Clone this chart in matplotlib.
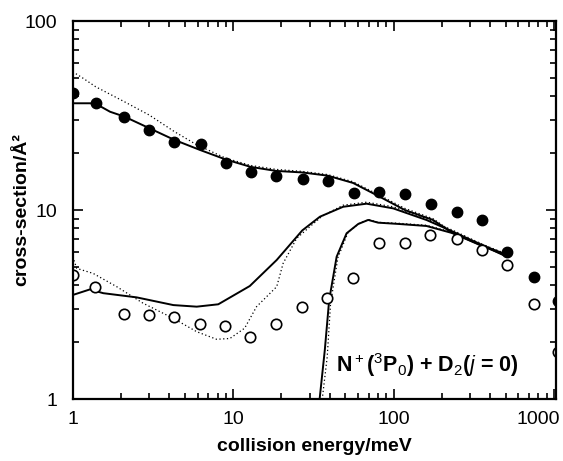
import matplotlib
matplotlib.use("Agg")
import matplotlib.pyplot as plt
import matplotlib.transforms as mtransforms
from matplotlib.ticker import LogLocator, NullFormatter, FixedLocator, FixedFormatter

plt.rcParams['font.family'] = ['Liberation Sans', 'DejaVu Sans']
plt.rcParams['mathtext.fontset'] = 'custom'
plt.rcParams['mathtext.rm'] = 'Liberation Sans'
plt.rcParams['mathtext.it'] = 'Liberation Sans:italic'
plt.rcParams['mathtext.bf'] = 'Liberation Sans:bold'

# experimental points (meV, A^2)
filled_E = [1.0, 1.39, 2.10, 3.0, 4.3, 6.27, 9.04, 12.96, 18.6, 27.2, 38.8, 56.6,
            81.3, 117.6, 170.7, 247, 356, 513, 751, 1061]
filled_s = [41.4, 36.7, 31.2, 26.5, 23.0, 22.3, 17.7, 15.9, 15.2, 14.6, 14.2, 12.3,
            12.4, 12.2, 10.7, 9.72, 8.85, 5.97, 4.40, 3.30]

open_E = [1.0, 1.38, 2.09, 2.98, 4.28, 6.24, 8.93, 12.7, 18.5, 26.8, 38.6, 56.0,
          81.3, 117.6, 170, 247, 357, 513, 748, 1061]
open_s = [4.53, 3.93, 2.82, 2.78, 2.71, 2.48, 2.44, 2.12, 2.49, 3.06, 3.44, 4.35,
          6.71, 6.66, 7.37, 7.02, 6.14, 5.10, 3.17, 1.77]

# calculated curves
solid1_E = [1.0, 1.28, 1.39, 1.71, 2.1, 3.0, 4.3, 6.2, 9.0, 12.9, 18.5, 27.0, 38.8,
            56, 81.3, 117.6, 176, 235, 340, 482]
solid1_s = [36.7, 36.7, 36.5, 33.1, 31.2, 27.1, 23.5, 20.8, 18.5, 16.9, 16.1, 15.8,
            15.2, 13.9, 11.8, 10.0, 8.86, 7.53, 6.6, 5.90]

dotted1_E = [1.0, 1.16, 1.39, 2.1, 3.0, 4.3, 5.95, 9.0, 12.9, 18.5, 27.0, 38.8, 56,
             81.3, 117.6, 176, 235, 340, 482]
dotted1_s = [53.9, 49.8, 44.9, 37.4, 31.8, 26.0, 22.1, 18.8, 17.2, 16.4, 16.0, 15.4,
             14.1, 12.0, 10.2, 9.0, 7.6, 6.7, 5.95]

solid2_E = [1.0, 1.28, 1.55, 2.5, 4.24, 5.93, 8.08, 12.7, 18.7, 27.0, 34.8, 48.5,
            67.9, 99.5, 160.7, 235, 482]
solid2_s = [3.55, 3.80, 3.63, 3.45, 3.14, 3.08, 3.17, 3.96, 5.44, 7.8, 9.22, 10.4,
            10.8, 10.2, 8.85, 7.68, 5.78]

dotted2_E = [1.0, 1.06, 1.34, 1.88, 2.75, 4.24, 5.93, 7.89, 9.55, 11.8, 14.0, 18.7,
             20.5, 24.9, 30.1, 36, 48.5, 67.9, 99.5, 160.7, 235, 482]
dotted2_s = [5.66, 4.91, 4.62, 3.93, 3.21, 2.67, 2.27, 2.07, 2.09, 2.37, 3.08, 3.93,
             5.22, 7.08, 8.16, 9.3, 10.6, 11.0, 10.4, 9.0, 7.8, 5.85]

solid3_E = [34.4, 37.3, 39.7, 44.2, 51.0, 60.2, 69.5, 80.2, 109, 160.7, 235, 345, 482]
solid3_s = [0.95, 1.82, 3.34, 5.66, 7.53, 8.43, 8.86, 8.57, 8.43, 8.23, 7.53, 6.53, 5.83]

dotted3_E = [35.7, 38.6, 40.5, 45, 52, 61, 70, 80, 109, 160.7, 235, 345, 482]
dotted3_s = [0.95, 1.67, 3.2, 5.6, 7.6, 8.5, 8.9, 8.6, 8.5, 8.3, 7.6, 6.6, 5.85]

x_ticks = [1, 10, 100, 1000]
x_labels = ['1', '10', '100', '1000']
y_ticks = [1, 10, 100]
y_labels = ['1', '10', '100']

fig = plt.figure(figsize=(5.63, 4.61), dpi=100)
ax = fig.add_axes([72.7 / 563, 1 - 399 / 461, (556 - 72.7) / 563, (399 - 21) / 461])

dot = (0, (1, 2))
ax.plot(dotted1_E, dotted1_s, color='black', lw=0.9, ls=dot)
ax.plot(dotted2_E, dotted2_s, color='black', lw=0.9, ls=dot)
ax.plot(dotted3_E, dotted3_s, color='black', lw=0.9, ls=dot)
ax.plot(solid1_E, solid1_s, color='black', lw=1.4)
ax.plot(solid2_E, solid2_s, color='black', lw=1.4)
ax.plot(solid3_E, solid3_s, color='black', lw=1.4)

ax.plot(filled_E, filled_s, 'o', color='black', ms=7.5)
ax.plot(open_E, open_s, 'o', mfc='white', mec='black', mew=1.2, ms=7.5)

ax.set_xscale('log')
ax.set_yscale('log')
ax.set_xlim(1, 1030)
ax.set_ylim(1, 100)

ax.xaxis.set_major_locator(FixedLocator(x_ticks))
ax.xaxis.set_major_formatter(FixedFormatter(x_labels))
ax.yaxis.set_major_locator(FixedLocator(y_ticks))
ax.yaxis.set_major_formatter(FixedFormatter(y_labels))
ax.xaxis.set_minor_locator(LogLocator(base=10, subs=range(2, 10)))
ax.yaxis.set_minor_locator(LogLocator(base=10, subs=range(2, 10)))
ax.xaxis.set_minor_formatter(NullFormatter())
ax.yaxis.set_minor_formatter(NullFormatter())

ax.tick_params(which='both', direction='in', top=True, right=True, width=1.2)
ax.tick_params(which='major', length=7, labelsize=14)
ax.tick_params(axis='x', which='major', pad=9)
ax.tick_params(axis='y', which='major', pad=11)
ax.tick_params(which='minor', length=4)
for sp in ax.spines.values():
    sp.set_linewidth(1.6)

# the 1000 label sits a little left of its tick so it stays inside the figure
last = ax.get_xticklabels()[-1]
last.set_transform(last.get_transform() + mtransforms.ScaledTranslation(-16 / 100, 0, fig.dpi_scale_trans))

ax.set_xlabel('collision energy/meV', fontsize=14, fontweight='bold', labelpad=7)
ax.set_ylabel('cross-section/Å²', fontsize=14, fontweight='bold', labelpad=-4)

ax.text(0.545, 0.09, r'N$^+$($^3$P$_0$) + D$_2$($\it{j}$ = 0)', transform=ax.transAxes,
        fontsize=15.5, fontweight='bold', ha='left', va='center')

fig.savefig('out.png', dpi=100)
